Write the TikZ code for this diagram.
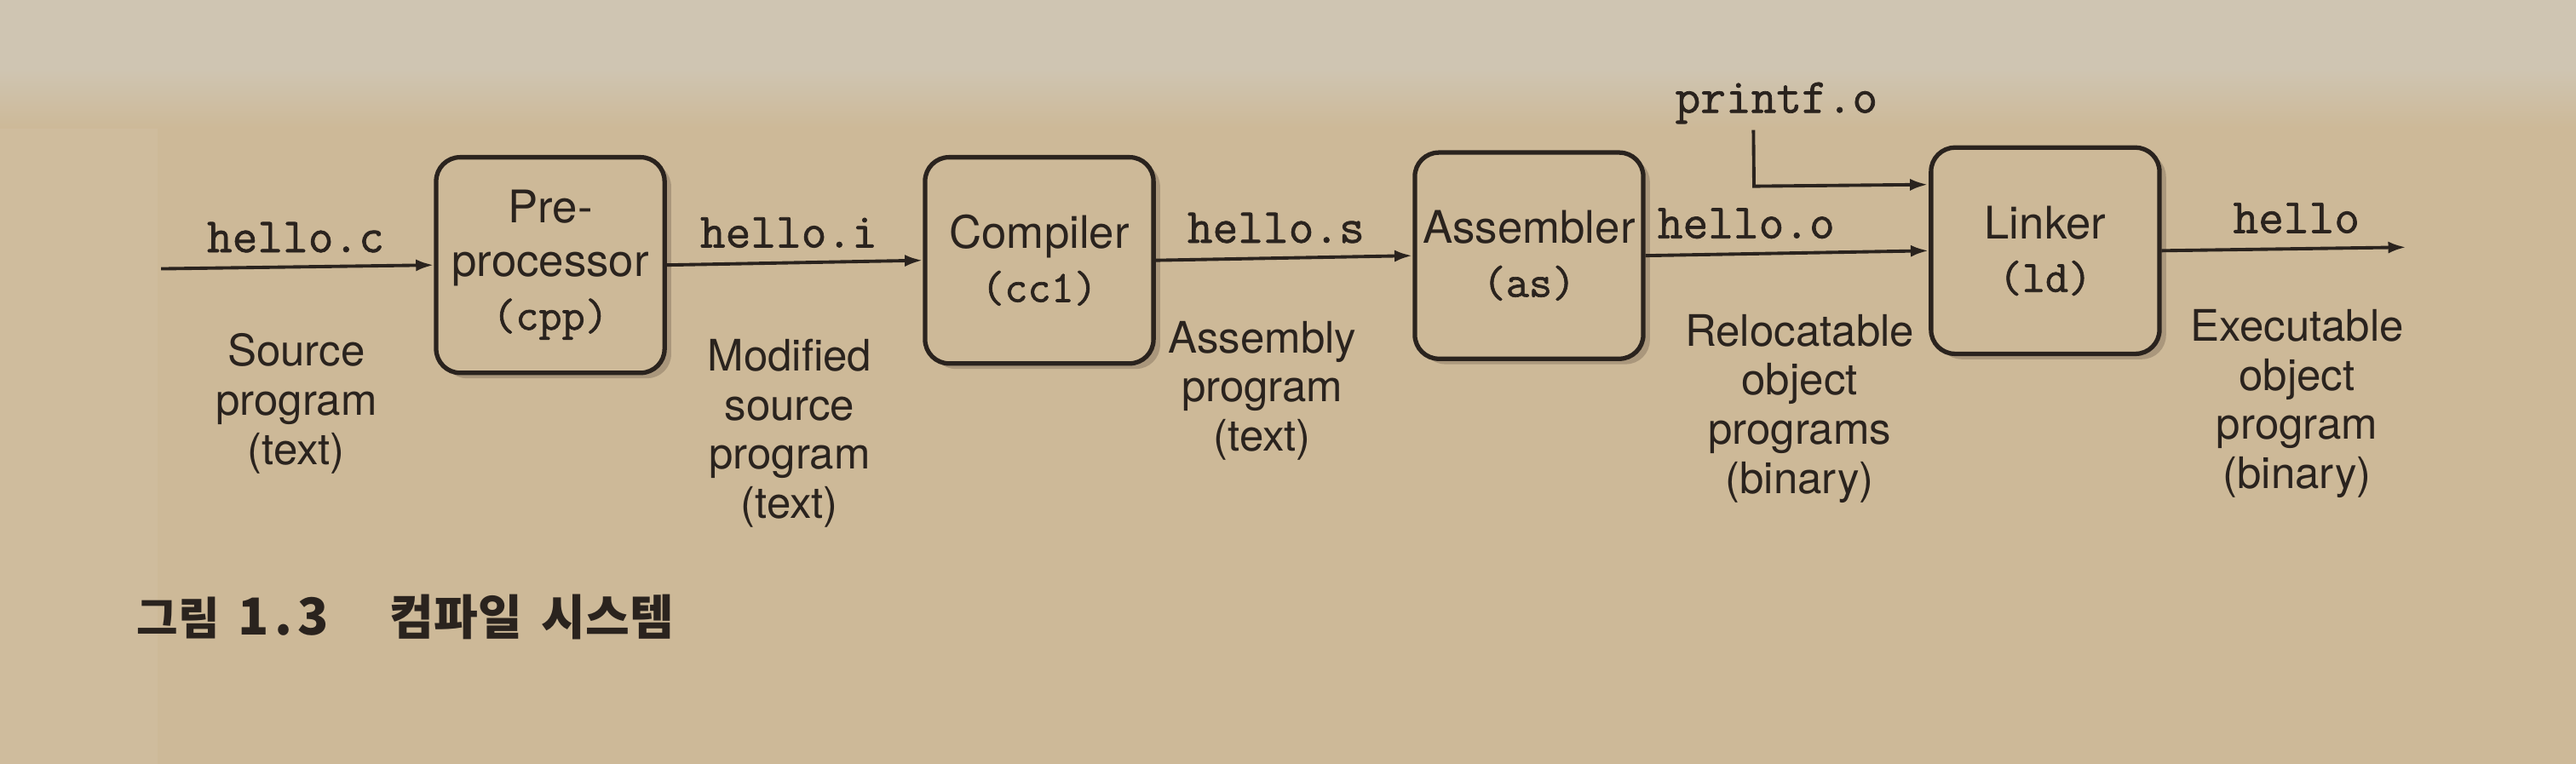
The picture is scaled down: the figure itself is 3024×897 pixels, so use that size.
\documentclass[tikz,border=0pt]{standalone}
\usepackage{fontspec}
\setmainfont{TeX Gyre Heros}
\newfontfamily\cjk{Noto Sans CJK KR}
\newfontfamily\code{Latin Modern Mono}[FakeBold=1.2]
\usetikzlibrary{arrows.meta,calc,shadows}
\definecolor{paper}{RGB}{205,185,152}
\definecolor{paperlight}{RGB}{207,197,178}
\definecolor{paperleft}{RGB}{214,199,172}
\definecolor{ink}{RGB}{42,35,30}
\definecolor{shadowc}{RGB}{90,75,60}
\tikzset{
  box/.style={draw=ink, line width=1.5pt, rounded corners=8pt, fill=paper, text=ink,
    align=center, minimum width=2.68cm, minimum height=2.42cm, inner sep=0pt,
    font=\fontsize{15}{17.8}\selectfont,
    drop shadow={shadow xshift=2.2pt, shadow yshift=-1.8pt, fill=shadowc, opacity=0.3}},
  lbl/.style={text=ink, font=\code\fontsize{16.4}{18}\selectfont, anchor=base, inner sep=0pt},
  desc/.style={text=ink, align=center, font=\fontsize{14.5}{16.4}\selectfont, anchor=north, inner sep=0pt},
  flow/.style={draw=ink, line width=1.1pt, -{Latex[length=6pt,width=4pt]}},
}
\begin{document}
\begin{tikzpicture}[x=0.01cm,y=-0.01cm]
\useasboundingbox (0,0) rectangle (3024,897);
\fill[paper] (0,0) rectangle (3024,897);
\fill[paperleft, opacity=0.25] (0,0) rectangle (185,897);
\fill[paperlight] (0,0) rectangle (3024,80);
\shade[top color=paperlight, bottom color=paper] (0,80) rectangle (3024,150);

\begin{scope}[rotate around={0.55:(1500,303)}]
% boxes
\node[box, minimum height=2.53cm] (cpp) at (646,303) {Pre-\\processor\\{\code (cpp)}};
\node[box] (cc1) at (1220,303) {Compiler\\{\code (cc1)}};
\node[box] (as) at (1795,303) {Assembler\\{\code (as)}};
\node[box] (ld) at (2401,303) {Linker\\{\code (ld)}};

% free ends
\coordinate (in) at (189,303);
\coordinate (out) at (2825,303);

% connectors
\draw[flow] (in) -- (cpp.west);
\draw[flow] (cpp.east) -- (cc1.west);
\draw[flow] (cc1.east) -- (as.west);
\draw[flow] (as.east) -- (ld.west);
\draw[flow] (ld.east) -- (out);

% labels over arrows
\node[lbl] (lc) at (347,285) {hello.c};
\node[lbl] (li) at (926,285) {hello.i};
\node[lbl] (ls) at (1498,285) {hello.s};
\node[lbl] (lo) at (2050,285) {hello.o};
\node[lbl] (lh) at (2696,285) {hello};
\node[lbl] (pf) at (2087,138) {printf.o};

% printf.o connector
\coordinate (pfs) at (2060,158);
\draw[flow] (pfs) |- (ld.west |- 0,224);

% descriptions
\node[desc] (dc) at (347,380) {Source\\program\\(text)};
\node[desc] (di) at (926,392) {Modified\\source\\program\\(text)};
\node[desc] (ds) at (1481,376) {Assembly\\program\\(text)};
\node[desc] (do) at (2112,374) {Relocatable\\object\\programs\\(binary)};
\node[desc] (dh) at (2696,374) {Executable\\object\\program\\(binary)};
\end{scope}

% caption
\node[anchor=base west, inner sep=0pt, text=ink, font=\cjk\bfseries\fontsize{15}{18}\selectfont] (cap) at (160,745)
  {그림\hspace{0.22cm}{\fontsize{17}{18}\selectfont 1\hspace{0.06cm}.\hspace{0.06cm}3}\hspace{0.72cm}{\fontsize{16}{18}\selectfont 컴파일\hspace{0.1cm} 시스템}};
\end{tikzpicture}
\end{document}
